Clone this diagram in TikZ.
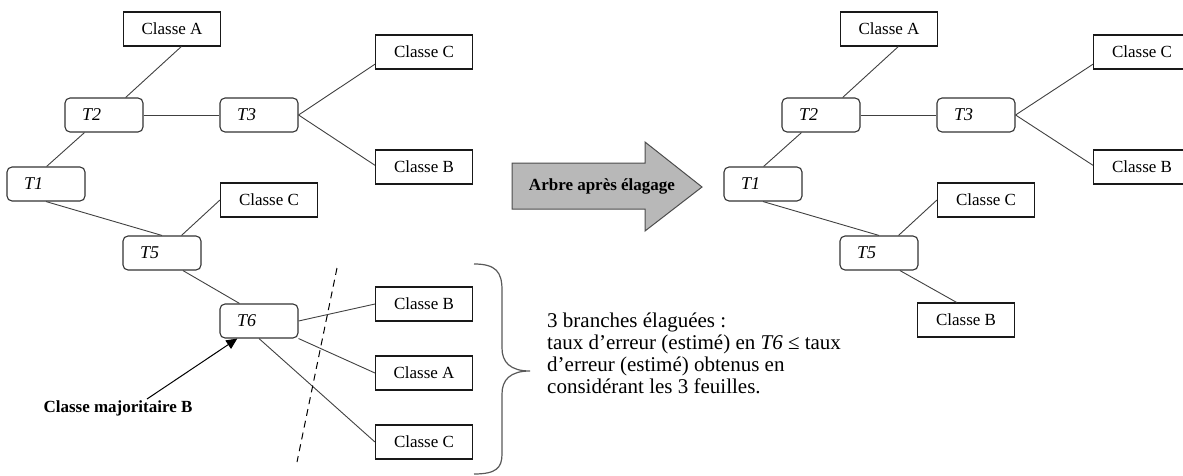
\documentclass[tikz,border=0pt]{standalone}
\usepackage{fontspec}
\setmainfont{Liberation Serif}
\usetikzlibrary{arrows.meta}
\begin{document}
\begin{tikzpicture}[x=1pt,y=-1pt,
  cbox/.style={draw=black!90, line width=1.1pt, minimum width=97pt, minimum height=34pt, inner sep=0pt, font=\fontsize{17}{20}\selectfont},
  tbox/.style={draw=black!80, line width=1.1pt, rounded corners=5pt, minimum height=34pt, text width=44pt, inner xsep=17pt, inner ysep=0pt, align=left, font=\fontsize{18}{20}\selectfont\itshape},
  link/.style={draw=black!75, line width=0.9pt}]
\useasboundingbox (0,0) rectangle (1183,476);
% ---------- left tree ----------
\node[cbox] (cA1) at (172,29) {Classe A};
\node[tbox] (T2) at (104,115) {T2};
\node[tbox] (T3) at (259,115) {T3};
\node[cbox] (cC1) at (424,52) {Classe C};
\node[cbox] (cB1) at (424,167) {Classe B};
\node[tbox] (T1) at (46,184) {T1};
\node[cbox] (cC2) at (269,200) {Classe C};
\node[tbox] (T5) at (162,253) {T5};
\node[tbox] (T6) at (259,321) {T6};
\node[cbox] (cB2) at (424,304) {Classe B};
\node[cbox] (cA2) at (424,373) {Classe A};
\node[cbox] (cC3) at (424,442) {Classe C};
\draw[link] (T2.39) -- (cA1.-62);
\draw[link] (T2.east) -- (T3.west);
\draw[link] (T3.east) -- (cC1.194);
\draw[link] (T3.east) -- (cB1.178);
\draw[link] (T1.88) -- (T2.222);
\draw[link] (T1.south) -- (T5.north);
\draw[link] (T5.42) -- (cC2.west);
\draw[link] (T5.-40) -- (T6.138);
\draw[link] (T6.east) -- (cB2.west);
\draw[link] (T6.south east) -- (cA2.west);
\draw[link] (T6.south) -- (cC3.west);
\node[font=\fontsize{17}{20}\selectfont\bfseries] (maj) at (118,408) {Classe majoritaire B};
\coordinate (arrstart) at (147,399);
\draw[line width=1pt, -{Triangle[length=11pt,width=10pt]}] (arrstart) -- (T6.219);
\coordinate (cut1) at (337,268);
\coordinate (cut2) at (297,462);
\draw[line width=1pt, dash pattern=on 7pt off 5pt] (cut1) -- (cut2);
% ---------- brace ----------
\draw[black!65, line width=1.2pt] (474,264) .. controls (496,264) and (502,272) .. (502,290) -- (502,348)
  .. controls (502,362) and (510,371) .. (530,371)
  .. controls (510,371) and (502,380) .. (502,394) -- (502,454)
  .. controls (502,468) and (496,474) .. (474,474);
\node[anchor=north west, inner sep=0pt, align=left, font=\fontsize{21}{22}\selectfont] (txt) at (547,313)
  {3 branches élaguées :\\taux d’erreur (estimé) en \textit{T6} ≤ taux\\d’erreur (estimé) obtenus en\\considérant les 3 feuilles.};
% ---------- block arrow ----------
\draw[fill=black!28, draw=black!70, line width=1pt] (512,163) -- (645,163) -- (645,142) -- (702,187) -- (645,231) -- (645,209) -- (512,209) -- cycle;
\node[font=\fontsize{17}{20}\selectfont\bfseries] (arrlab) at (602,186) {Arbre après élagage};
% ---------- right tree ----------
\node[cbox] (rcA) at (889,29) {Classe A};
\node[tbox] (rT2) at (821,115) {T2};
\node[tbox] (rT3) at (976,115) {T3};
\node[cbox] (rcC1) at (1142,52) {Classe C};
\node[cbox] (rcB1) at (1142,167) {Classe B};
\node[tbox] (rT1) at (763,184) {T1};
\node[cbox] (rcC2) at (986,200) {Classe C};
\node[tbox] (rT5) at (879,253) {T5};
\node[cbox] (rcB2) at (966,320) {Classe B};
\draw[link] (rT2.39) -- (rcA.-62);
\draw[link] (rT2.east) -- (rT3.west);
\draw[link] (rT3.east) -- (rcC1.194);
\draw[link] (rT3.east) -- (rcB1.178);
\draw[link] (rT1.88) -- (rT2.222);
\draw[link] (rT1.south) -- (rT5.north);
\draw[link] (rT5.42) -- (rcC2.west);
\draw[link] (rT5.-40) -- (rcB2.118);
\end{tikzpicture}
\end{document}
